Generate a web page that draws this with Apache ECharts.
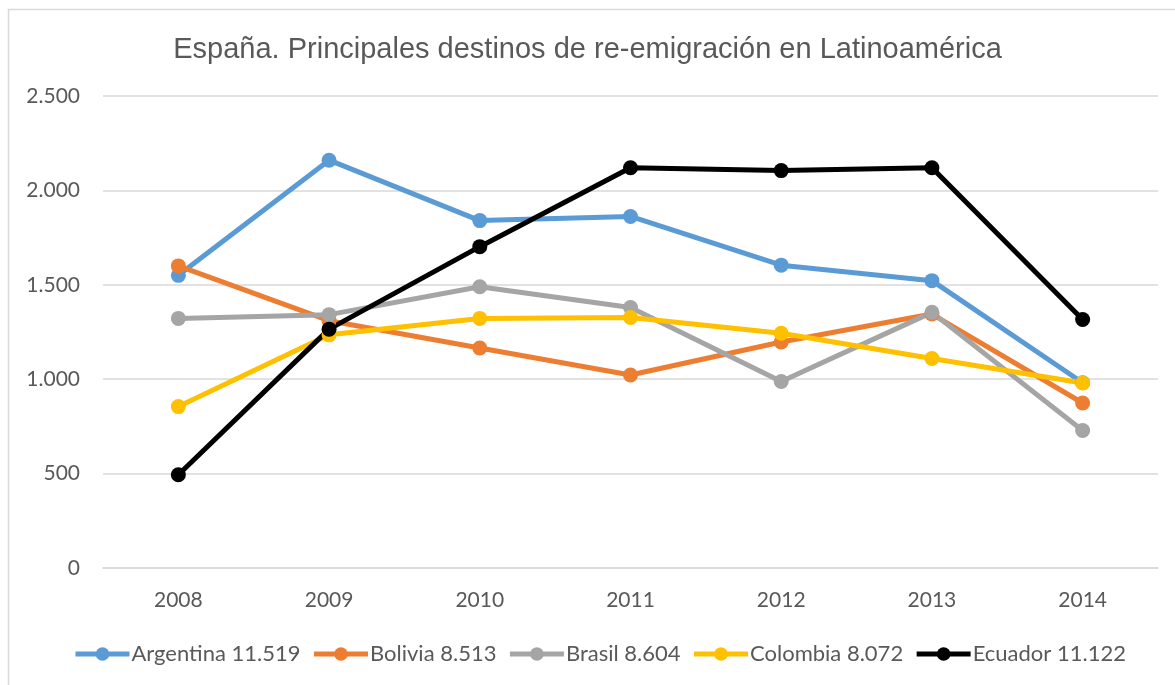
<!DOCTYPE html>
<html>
<head>
<meta charset="utf-8">
<script src="https://cdn.jsdelivr.net/npm/echarts@6/dist/echarts.min.js"></script>
<style>
  html, body { margin: 0; padding: 0; background: #fff; }
  #chart { width: 1175px; height: 685px; }
</style>
</head>
<body>
<div id="chart"></div>
<script>
const years = ['2008', '2009', '2010', '2011', '2012', '2013', '2014']
const argentina = [1550, 2160, 1840, 1862, 1604, 1522, 981]
const bolivia = [1600, 1310, 1165, 1022, 1197, 1345, 874]
const brasil = [1322, 1342, 1490, 1380, 988, 1354, 728]
const colombia = [855, 1235, 1322, 1327, 1243, 1110, 980]
const ecuador = [494, 1265, 1702, 2120, 2105, 2120, 1316]
const seriesNames = ['Argentina 11.519', 'Bolivia 8.513', 'Brasil 8.604', 'Colombia 8.072', 'Ecuador 11.122']
const seriesColors = ['#5B9BD5', '#ED7D31', '#A5A5A5', '#FFC000', '#000000']

const chart = echarts.init(document.getElementById('chart'))
const textColor = '#595959'
const labelFont = 'Lato, "Open Sans", sans-serif'

function lineSeries(name, data, color) {
  return {
    name,
    type: 'line',
    data,
    symbol: 'circle',
    symbolSize: 15,
    lineStyle: { color, width: 5 },
    itemStyle: { color },
    emphasis: { disabled: true }
  }
}

chart.setOption({
  animation: false,
  backgroundColor: '#fff',
  graphic: [
    {
      type: 'rect',
      shape: { x: 8.5, y: 9.5, width: 1300, height: 800 },
      style: { fill: 'none', stroke: '#d9d9d9', lineWidth: 1.5 },
      silent: true
    }
  ],
  title: {
    text: 'España. Principales destinos de re-emigración en Latinoamérica',
    left: 'center',
    top: 30,
    textStyle: {
      fontFamily: '"Liberation Sans", Arial, sans-serif',
      fontSize: 29,
      fontWeight: 'normal',
      color: textColor
    }
  },
  grid: { left: 103, right: 17, top: 96, bottom: 117 },
  legend: {
    bottom: 15,
    left: 68,
    itemWidth: 54,
    itemHeight: 17,
    itemGap: 11,
    lineStyle: { width: 5 },
    textStyle: { fontFamily: labelFont, fontSize: 22, color: textColor, padding: [0, 0, 0, -3] },
    data: seriesNames
  },
  xAxis: {
    type: 'category',
    data: years,
    boundaryGap: true,
    axisLine: { lineStyle: { color: '#d9d9d9', width: 1.5 } },
    axisTick: { show: false },
    axisLabel: { color: textColor, fontFamily: labelFont, fontSize: 21, margin: 22 }
  },
  yAxis: {
    type: 'value',
    min: 0,
    max: 2500,
    interval: 500,
    axisLine: { show: false },
    axisTick: { show: false },
    splitLine: { lineStyle: { color: '#d9d9d9', width: 1.5 } },
    axisLabel: {
      color: textColor,
      fontFamily: labelFont,
      fontSize: 21,
      margin: 23,
      formatter: (v) => v.toLocaleString('de-DE')
    }
  },
  series: [
    lineSeries(seriesNames[0], argentina, seriesColors[0]),
    lineSeries(seriesNames[1], bolivia, seriesColors[1]),
    lineSeries(seriesNames[2], brasil, seriesColors[2]),
    lineSeries(seriesNames[3], colombia, seriesColors[3]),
    lineSeries(seriesNames[4], ecuador, seriesColors[4])
  ]
})
</script>
</body>
</html>
